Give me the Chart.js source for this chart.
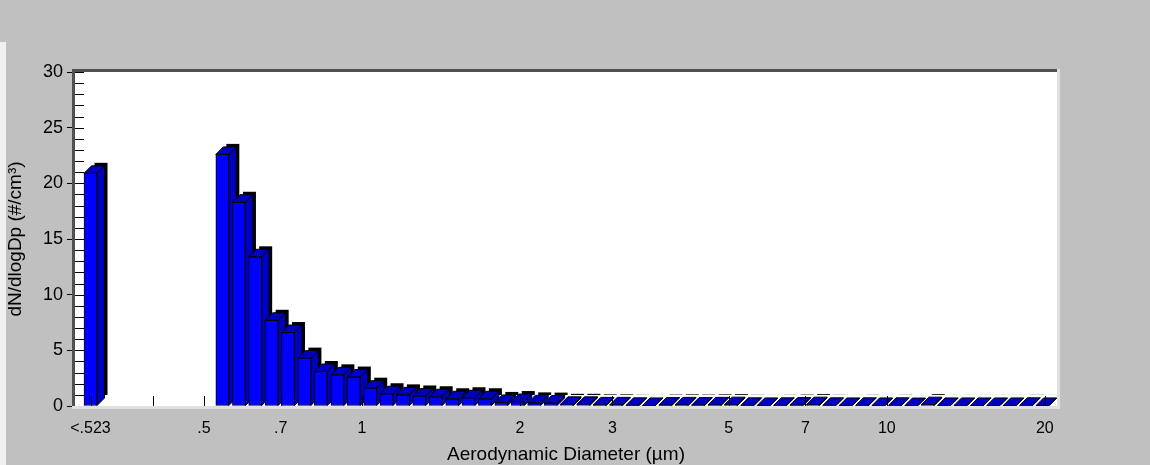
<!DOCTYPE html>
<html>
<head>
<meta charset="utf-8">
<title>dN/dlogDp</title>
<script src="https://cdn.jsdelivr.net/npm/chart.js@4.4.1/dist/chart.umd.min.js"></script>
<style>
  html, body { margin: 0; padding: 0; background: #c0c0c0; overflow: hidden; }
  canvas { display: block; }
</style>
</head>
<body>
<canvas id="my-chart" width="1150" height="465"></canvas>
<script>
// channel midpoints in um, the "<.523" channel is parked at 0.304 on the axis
var diameters = [0.304,
    0.542, 0.583, 0.626, 0.673, 0.723, 0.777, 0.835, 0.898, 0.965, 1.037,
    1.114, 1.197, 1.286, 1.382, 1.486, 1.596, 1.715, 1.843, 1.981, 2.129,
    2.288, 2.458, 2.642, 2.839, 3.051, 3.278, 3.523, 3.786, 4.068, 4.371,
    4.698, 5.048, 5.425, 5.829, 6.264, 6.732, 7.234, 7.774, 8.354, 8.977,
    9.647, 10.37, 11.14, 11.97, 12.86, 13.82, 14.86, 15.96, 17.15, 18.43, 19.81]

var counts = [20.9,
    22.6, 18.3, 13.4, 7.7, 6.6, 4.3, 3.1, 2.8, 2.6, 1.6,
    1.1, 1.0, 0.9, 0.83, 0.65, 0.74, 0.65, 0.32, 0.40, 0.28,
    0.26, 0.15, 0.15, 0.10, 0.10, 0.06, 0.05, 0.08, 0.10, 0.08,
    0.10, 0.12, 0.06, 0.05, 0.06, 0.08, 0.12, 0.06, 0.05, 0.06,
    0.05, 0.06, 0.04, 0.12, 0.05, 0.05, 0.05, 0.05, 0.05, 0.06, 0.05]

var tickValues = [0.304, 0.4, 0.5, 0.7, 1, 2, 3, 5, 7, 10, 20]
var tickLabels = ['<.523', '', '.5', '.7', '1', '2', '3', '5', '7', '10', '20']

var FONT = "'Liberation Sans', Arial, sans-serif"
var DX = 7.5, DY = 7.5   // bar depth

var bar3d = {
    id: 'bar3d',
    beforeDraw: function(chart){
        var ctx = chart.ctx, a = chart.chartArea
        ctx.save()
        ctx.fillStyle = '#c0c0c0'
        ctx.fillRect(0, 0, chart.width, chart.height)
        ctx.fillStyle = '#f0f0f0'
        ctx.fillRect(0, 42, 6, chart.height - 42)
        ctx.fillStyle = '#ffffff'
        ctx.fillRect(a.left, a.top, a.right - a.left, a.bottom - a.top)
        ctx.restore()
    },
    // back shadow, side and top faces; chart.js draws the fronts afterwards
    beforeDatasetsDraw: function(chart){
        var ctx = chart.ctx
        var meta = chart.getDatasetMeta(0)
        ctx.save()
        ctx.lineWidth = 1
        ctx.strokeStyle = '#000'
        meta.data.forEach(function(el){
            var p = el.getProps(['x', 'y', 'base', 'width'], true)
            var l = p.x - p.width / 2, r = p.x + p.width / 2
            var t = p.y, b = p.base

            ctx.fillStyle = '#000'
            ctx.fillRect(l + DX + 3, t - DY - 3, p.width, b - t)

            ctx.fillStyle = '#0000c0'
            ctx.beginPath()
            ctx.moveTo(r, t)
            ctx.lineTo(r + DX, t - DY)
            ctx.lineTo(r + DX, b - DY)
            ctx.lineTo(r, b)
            ctx.closePath()
            ctx.fill()
            ctx.stroke()

            ctx.beginPath()
            ctx.moveTo(l, t)
            ctx.lineTo(l + DX, t - DY)
            ctx.lineTo(r + DX, t - DY)
            ctx.lineTo(r, t)
            ctx.closePath()
            ctx.fill()
            ctx.stroke()
        })
        ctx.restore()
    },
    afterDatasetsDraw: function(chart){
        var ctx = chart.ctx, a = chart.chartArea
        var xs = chart.scales.x, ys = chart.scales.y
        ctx.save()
        ctx.strokeStyle = '#000'
        ctx.lineWidth = 1
        ctx.beginPath()
        tickValues.forEach(function(v){
            var px = Math.round(xs.getPixelForValue(v)) + 0.5
            ctx.moveTo(px, a.bottom)
            ctx.lineTo(px, a.bottom - 10)
        })
        for (var i = 0; i <= 30; i++) {
            var py = Math.round(ys.getPixelForValue(i)) + 0.5
            ctx.moveTo(a.left, py)
            ctx.lineTo(a.left + 9, py)
        }
        ctx.stroke()

        // sunken frame
        ctx.lineWidth = 3
        ctx.strokeStyle = '#e0e0e0'
        ctx.beginPath()
        ctx.moveTo(a.left - 3, a.bottom + 1.5)
        ctx.lineTo(a.right + 1.5, a.bottom + 1.5)
        ctx.lineTo(a.right + 1.5, a.top - 3)
        ctx.stroke()
        ctx.strokeStyle = '#505050'
        ctx.beginPath()
        ctx.moveTo(a.left - 1.5, a.bottom)
        ctx.lineTo(a.left - 1.5, a.top - 1.5)
        ctx.lineTo(a.right, a.top - 1.5)
        ctx.stroke()
        ctx.restore()
    }
}

var points = diameters.map(function(d, i){ return {x: d, y: counts[i]} })

var chart = new Chart(document.getElementById('my-chart').getContext('2d'), {
    type: 'bar',
    data: {
        datasets: [{
            data: points,
            backgroundColor: '#0000ff',
            borderColor: '#000000',
            borderWidth: 1,
            borderSkipped: false,
            barThickness: 13
        }]
    },
    options: {
        responsive: false,
        animation: false,
        devicePixelRatio: 1,
        layout: { padding: { top: 72, right: 93, bottom: 0, left: 0 } },
        plugins: { legend: { display: false }, tooltip: { enabled: false } },
        scales: {
            x: {
                type: 'logarithmic',
                min: 0.284,
                max: 21.1,
                offset: false,
                grid: { display: false, offset: false },
                border: { display: false },
                afterBuildTicks: function(scale){
                    scale.ticks = tickValues.map(function(v){ return {value: v} })
                },
                afterFit: function(scale){ scale.height = 59 },
                ticks: {
                    autoSkip: false,
                    maxRotation: 0,
                    minRotation: 0,
                    padding: 5,
                    color: '#000',
                    font: { family: FONT, size: 16 },
                    callback: function(value, index){ return tickLabels[index] }
                },
                title: {
                    display: true,
                    text: 'Aerodynamic Diameter (µm)',
                    color: '#000',
                    font: { family: FONT, size: 19 },
                    padding: { top: 0, bottom: -1 }
                }
            },
            y: {
                min: 0,
                max: 30,
                grid: { drawOnChartArea: false, drawTicks: true, tickLength: 8, color: '#000' },
                border: { display: false },
                afterFit: function(scale){ scale.width = 75 },
                ticks: {
                    stepSize: 5,
                    padding: 4,
                    color: '#000',
                    font: { family: FONT, size: 18 }
                },
                title: {
                    display: true,
                    text: 'dN/dlogDp (#/cm³)',
                    color: '#000',
                    font: { family: FONT, size: 19 },
                    padding: { top: 4, bottom: 0 }
                }
            }
        }
    },
    plugins: [bar3d]
})
</script>
</body>
</html>
